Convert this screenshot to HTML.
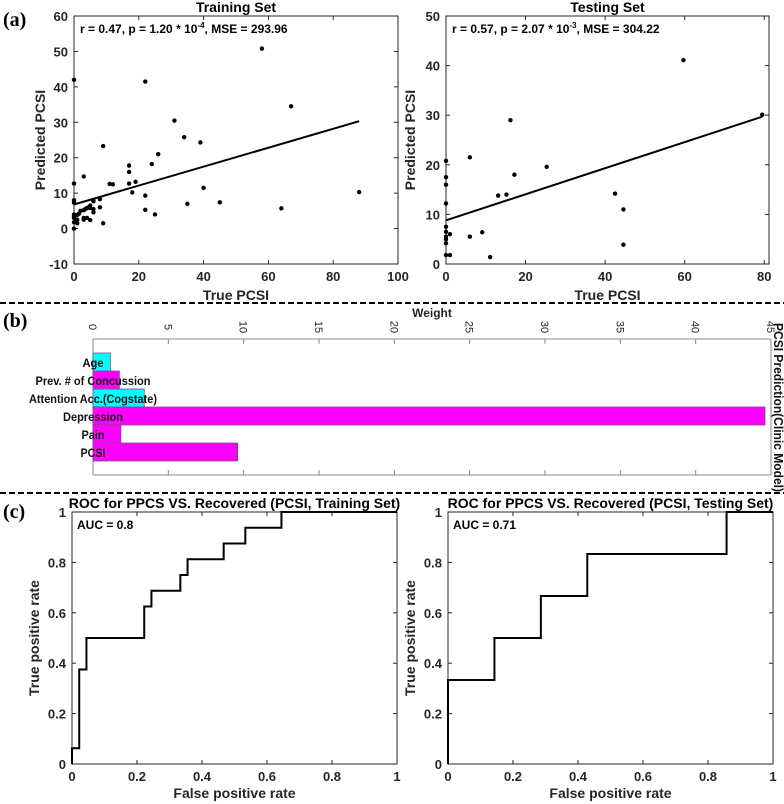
<!DOCTYPE html>
<html><head><meta charset="utf-8"><style>
html,body{margin:0;padding:0;background:#fff;}
svg{display:block;font-family:"Liberation Sans",Arial,sans-serif;}
.tk{font-size:13px;font-weight:bold;fill:#262626;}
.lb{font-size:14px;font-weight:bold;fill:#262626;}
.tt{font-size:14px;font-weight:bold;fill:#000;}
.an{font-size:12px;font-weight:bold;fill:#000;}
</style></head><body>
<svg id="fig" width="784" height="804" viewBox="0 0 784 804" xmlns="http://www.w3.org/2000/svg">
<text x="3" y="26" font-family="Liberation Serif" font-size="20" font-weight="bold">(a)</text>
<text x="3" y="327" font-family="Liberation Serif" font-size="20" font-weight="bold">(b)</text>
<text x="3" y="518" font-family="Liberation Serif" font-size="20" font-weight="bold">(c)</text>
<line x1="0" y1="303" x2="784" y2="303" stroke="#000" stroke-width="2" stroke-dasharray="6,3"/>
<line x1="0" y1="493" x2="784" y2="493" stroke="#000" stroke-width="2" stroke-dasharray="6,3"/>
<g id="root"></g>
</svg>
<script>
// ---- Training scatter data ----
const trainX = [0,58,22,67,31,34,39,9,26,24,17,17,3,0,11,12,19,17,18,40,88,22,0,0,8,8,6,35,45,64,22,25,9,0,
  0,0,0,0,1,1,1,1.5,2,3,3,3,3.5,4,4,4.5,5,5,5,6,6,6];
const trainY = [42,50.8,41.5,34.5,30.5,25.8,24.3,23.3,21,18.2,17.8,16,14.7,12.7,12.6,12.5,13.2,12.7,10.2,11.5,10.3,9.3,8,7.3,8.3,6,7.7,7,7.4,5.7,5.3,4,1.5,0,
  3.5,3,4,1.8,2.5,3.8,1.5,4.2,5,5.2,2.5,3,5.5,5.8,3,6,2.4,5.8,6.5,4.6,5.5,7.8];
const trainFitX = [0,88];
const trainFitY = [6.8,30.3];
const trainXTicks = [0,20,40,60,80,100];
const trainYTicks = [-10,0,10,20,30,40,50,60];
// ---- Testing scatter data ----
const testX = [59.7,79.5,16.2,6,25.3,17.2,0,0,0,0,0,0,0,0,0,0,1,1,13.1,15.2,42.5,44.6,44.6,6,9.1,11.1];
const testY = [41.1,30.1,29,21.5,19.6,18,20.8,17.5,16,12.2,7.5,6.5,5.5,5,4.2,1.8,6,1.8,13.8,14,14.2,11,3.9,5.5,6.4,1.4];
const testFitX = [0,79.5];
const testFitY = [8.8,29.7];
const testXTicks = [0,20,40,60,80];
const testYTicks = [0,10,20,30,40,50];
// ---- Bar chart data ----
const features = ["Age","Prev. # of Concussion","Attention Acc.(Cogstate)","Depression","Pain","PCSI"];
const weights = [1.15,1.75,3.4,44.6,1.85,9.6];
const barColors = ["#00ffff","#ff00ff","#00ffff","#ff00ff","#ff00ff","#ff00ff"];
const labelLens = [21,115,128,60,23,25];
const weightTicks = [0,5,10,15,20,25,30,35,40,45];
// ---- ROC data ----
const rocTrainFpr = [0,0,1/45,1/45,2/45,2/45,10/45,10/45,11/45,11/45,15/45,15/45,16/45,16/45,21/45,21/45,24/45,24/45,29/45,29/45,1];
const rocTrainTpr = [0,1/16,1/16,6/16,6/16,8/16,8/16,10/16,10/16,11/16,11/16,12/16,12/16,13/16,13/16,14/16,14/16,15/16,15/16,1,1];
const rocTestFpr = [0,0,1/7,1/7,2/7,2/7,3/7,3/7,6/7,6/7,1];
const rocTestTpr = [0,1/3,1/3,3/6,3/6,4/6,4/6,5/6,5/6,1,1];
const rocTicks = [0,0.2,0.4,0.6,0.8,1];

const NS="http://www.w3.org/2000/svg";
const root=document.getElementById('root');
function mk(tag,attrs,parent,text){const e=document.createElementNS(NS,tag);for(const k in attrs)e.setAttribute(k,attrs[k]);if(text!==undefined)e.textContent=text;(parent||root).appendChild(e);return e;}
function scale(d0,d1,r0,r1){return v=>r0+(v-d0)*(r1-r0)/(d1-d0);}
function fmt(v){return String(Math.round(v*10)/10);}

function axesBox(name,x0,y0,x1,y1,xs,ys,xt,yt,opts){
  const g=mk('g',{});
  
  
  const b=mk('rect',{x:x0,y:y0,width:x1-x0,height:y1-y0,fill:'none',stroke:'#262626','stroke-width':1},g);
  
  
  xt.forEach(t=>{const X=xs(t);
    mk('line',{x1:X,y1:y1,x2:X,y2:y1-4,stroke:'#262626'},g);
    mk('line',{x1:X,y1:y0,x2:X,y2:y0+4,stroke:'#262626'},g);
    const l=mk('text',{x:X,y:y1+17,'text-anchor':'middle',class:'tk'},g,fmt(t));
    
    
  });
  yt.forEach(t=>{const Y=ys(t);
    mk('line',{x1:x0,y1:Y,x2:x0+4,y2:Y,stroke:'#262626'},g);
    mk('line',{x1:x1,y1:Y,x2:x1-4,y2:Y,stroke:'#262626'},g);
    const l=mk('text',{x:x0-6,y:Y+5,'text-anchor':'end',class:'tk'},g,fmt(t));
    
    
  });
  const xl=mk('text',{x:(x0+x1)/2,y:opts.xly,'text-anchor':'middle',class:'lb'},g,opts.xl);
  
  
  const yl=mk('text',{x:0,y:0,'text-anchor':'middle',class:'lb',transform:`translate(${opts.ylx},${(y0+y1)/2}) rotate(-90)`},g,opts.yl);
  
  
  const tt=mk('text',{x:(x0+x1)/2,y:y0-4,'text-anchor':'middle',class:'tt'},g,opts.title);
  
  
  return g;
}

function scatter(name,X,Y,fx,fy,x0,y0,x1,y1,xd,yd,xt,yt,opts,ann){
  const xs=scale(xd[0],xd[1],x0,x1), ys=scale(yd[0],yd[1],y1,y0);
  const g=axesBox(name,x0,y0,x1,y1,xs,ys,xt,yt,opts);
  X.forEach((v,i)=>{const c=mk('circle',{cx:xs(v),cy:ys(Y[i]),r:2.2,fill:'#000'},g);
    
    });
  const ln=mk('line',{x1:xs(fx[0]),y1:ys(fy[0]),x2:xs(fx[1]),y2:ys(fy[1]),stroke:'#000','stroke-width':2},g);
  
  
  const a=mk('text',{x:x0+6,y:y0+17,class:'an'},g);
  
  
  mk('tspan',{},a,ann[0]);mk('tspan',{'font-size':'8',dy:'-5'},a,ann[1]);mk('tspan',{dy:'5'},a,ann[2]);
}

scatter('training-scatter',trainX,trainY,trainFitX,trainFitY,74,16,398,264,[0,100],[-10,60],trainXTicks,trainYTicks,
  {xl:'True PCSI',xly:300,yl:'Predicted PCSI',ylx:45,title:'Training Set'},['r = 0.47, p = 1.20 * 10','-4',', MSE = 293.96']);
scatter('testing-scatter',testX,testY,testFitX,testFitY,446,16,769,264,[0,81.2],[0,50],testXTicks,testYTicks,
  {xl:'True PCSI',xly:300,yl:'Predicted PCSI',ylx:415,title:'Testing Set'},['r = 0.57, p = 2.07 * 10','-3',', MSE = 304.22']);

// ---- Bar chart ----
(function(){
  const x0=93,x1=771,y0=339,y1=475,top=353,bh=18;
  const xs=scale(0,45,x0,x1);
  const g=mk('g',{});
  
  
  mk('line',{x1:x0,y1:y0,x2:x1,y2:y0,stroke:'#888'},g);
  mk('line',{x1:x0,y1:y1,x2:x1,y2:y1,stroke:'#888'},g);
  mk('line',{x1:x0,y1:y0,x2:x0,y2:y1,stroke:'#888'},g);
  mk('line',{x1:x1,y1:y0,x2:x1,y2:y1,stroke:'#888'},g);
  weightTicks.forEach(t=>{const X=xs(t);
    mk('line',{x1:X,y1:y0,x2:X,y2:y0+5,stroke:'#888'},g);
    mk('line',{x1:X,y1:y1,x2:X,y2:y1-5,stroke:'#888'},g);
    const l=mk('text',{x:0,y:0,transform:`translate(${X-4},${y0-12}) rotate(90)`,'text-anchor':'middle',style:'font-size:11px;fill:#262626'},g,String(t));
    
    
  });
  weights.forEach((w,i)=>{const Y=top+i*bh;
    const r=mk('rect',{x:x0,y:Y,width:xs(w)-x0,height:bh,fill:barColors[i],stroke:'#7a4a8a','stroke-width':0.8},g);
    
    
  });
  features.forEach((f,i)=>{const Y=top+i*bh;
    const l=mk('text',{x:x0,y:Y+bh/2+5,'text-anchor':'middle',textLength:labelLens[i],lengthAdjust:'spacingAndGlyphs',style:'font-size:12px;font-weight:bold;fill:#111'},g,f);
    
    
  });
  const wl=mk('text',{x:(x0+x1)/2,y:317,'text-anchor':'middle',style:'font-size:12px;font-weight:bold;fill:#262626'},g,'Weight');
  
  
  const rl=mk('text',{x:0,y:0,transform:'translate(774,323) rotate(90)',textLength:169,lengthAdjust:'spacingAndGlyphs',style:'font-size:13px;font-weight:bold;fill:#111'},g,'PCSI Prediction(Clinic Model)');
  
  
})();

// ---- ROC ----
function roc(name,F,T,x0,x1,title,auc){
  const y0=512,y1=764;
  const xs=scale(0,1,x0,x1), ys=scale(0,1,y1,y0);
  const g=axesBox(name,x0,y0,x1,y1,xs,ys,rocTicks,rocTicks,{xl:'False positive rate',xly:798,yl:'True positive rate',ylx:x0-33,title:title});
  const p=mk('polyline',{points:F.map((f,i)=>xs(f)+','+ys(T[i])).join(' '),fill:'none',stroke:'#000','stroke-width':2},g);
  
  
  const a=mk('text',{x:x0+5,y:y0+17,class:'an'},g,auc);
  
  
}
roc('roc-training',rocTrainFpr,rocTrainTpr,72,397,'ROC for PPCS VS. Recovered (PCSI, Training Set)','AUC = 0.8');
roc('roc-testing',rocTestFpr,rocTestTpr,448,773,'ROC for PPCS VS. Recovered (PCSI, Testing Set)','AUC = 0.71');
</script>
</body></html>
